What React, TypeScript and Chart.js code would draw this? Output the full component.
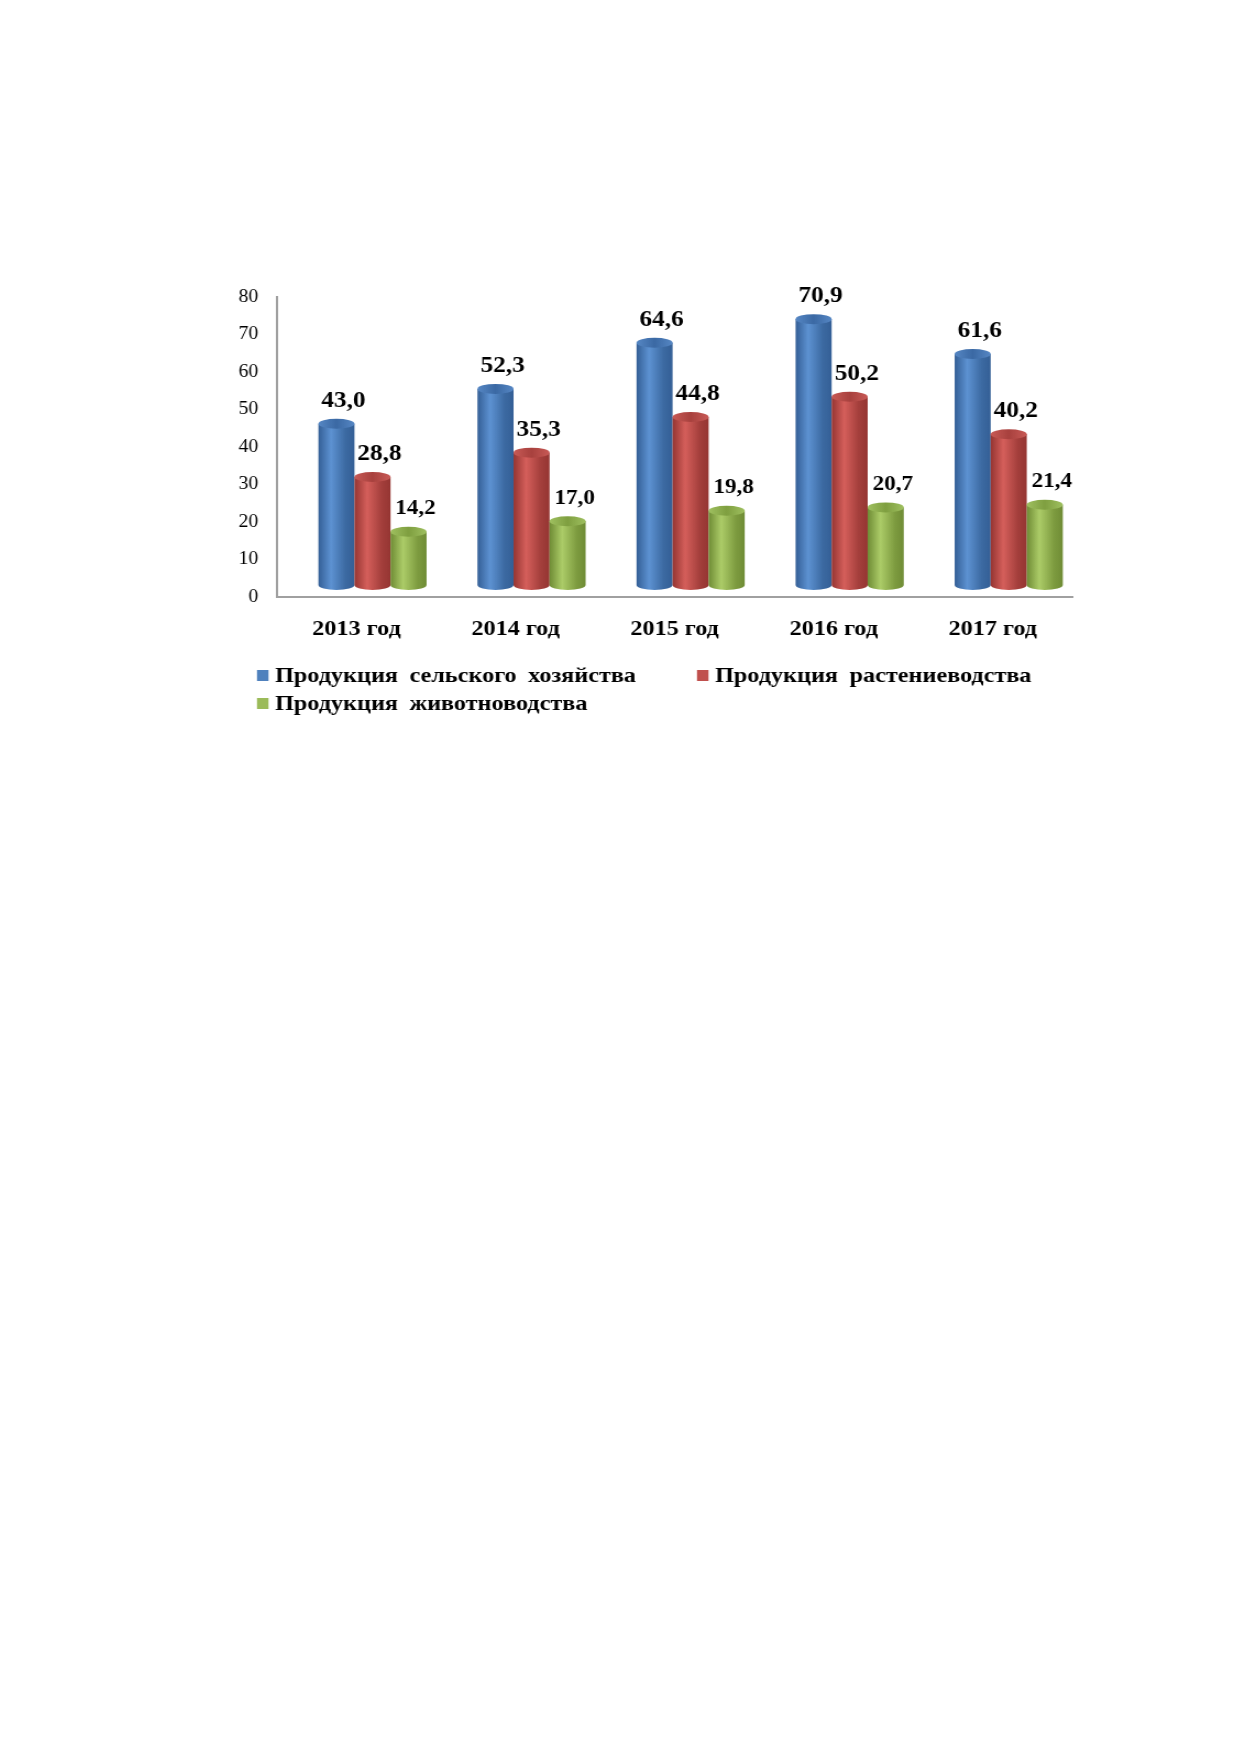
import { useEffect, useRef } from 'react';
import { Chart, registerables } from 'chart.js';

Chart.register(...registerables);

const years = ['2013 год', '2014 год', '2015 год', '2016 год', '2017 год'];
const seriesNames = [
  'Продукция сельского хозяйства',
  'Продукция растениеводства',
  'Продукция животноводства',
];
const agriculture = [43.0, 52.3, 64.6, 70.9, 61.6];
const cropProduction = [28.8, 35.3, 44.8, 50.2, 40.2];
const livestock = [14.2, 17.0, 19.8, 20.7, 21.4];
const yTicks = [0, 10, 20, 30, 40, 50, 60, 70, 80];

const FONT = '"Liberation Serif", "Times New Roman", serif';
const BASE_COLORS = ['#4F81BD', '#C0504D', '#9BBB59'];
const SHADES = [
  { dark: '#345f96', light: '#5d92d2', dark2: '#3c6aa2', cap: '#3b69a4', capLight: '#5687c4' },
  { dark: '#953532', light: '#d55f5b', dark2: '#a43f3c', cap: '#a8413e', capLight: '#c85a56' },
  { dark: '#6f8c35', light: '#accc68', dark2: '#7e9c40', cap: '#7f9f40', capLight: '#9fc060' },
];
// the original picture is stretched sideways
const STRETCH = 1.1;
// pseudo-3D depth shift of the cylinders
const DX = 14.5;
const DY = -12;

type Shade = (typeof SHADES)[number];

function drawCylinder(ctx: CanvasRenderingContext2D, cx: number, top: number, base: number, w: number, s: Shade) {
  const rx = w / 2;
  const ry = 5;
  const left = cx - rx;
  const body = ctx.createLinearGradient(left, 0, left + w, 0);
  body.addColorStop(0, s.dark);
  body.addColorStop(0.35, s.light);
  body.addColorStop(0.75, s.dark2);
  body.addColorStop(1, s.dark);
  ctx.beginPath();
  ctx.moveTo(left, top);
  ctx.lineTo(left, base);
  ctx.ellipse(cx, base, rx, ry, 0, Math.PI, 0, true);
  ctx.lineTo(left + w, top);
  ctx.closePath();
  ctx.fillStyle = body;
  ctx.fill();

  const cap = ctx.createLinearGradient(left, 0, left + w, 0);
  cap.addColorStop(0, s.capLight);
  cap.addColorStop(0.5, s.cap);
  cap.addColorStop(1, s.capLight);
  ctx.beginPath();
  ctx.ellipse(cx, top, rx, ry, 0, 0, Math.PI * 2);
  ctx.fillStyle = cap;
  ctx.fill();
}

const cylinderPlugin = {
  id: 'cylinders',
  beforeDatasetsDraw(chart: Chart) {
    const ctx = chart.ctx;
    ctx.save();
    chart.data.datasets.forEach((_ds, i) => {
      chart.getDatasetMeta(i).data.forEach((el: any) => {
        const { x, y, base, width } = el.getProps(['x', 'y', 'base', 'width'], true);
        drawCylinder(ctx, x + DX, y + DY, base + DY, width, SHADES[i]);
      });
    });
    ctx.restore();
    return false;
  },
  afterDraw(chart: Chart) {
    const ctx = chart.ctx;
    ctx.save();
    // value labels
    ctx.fillStyle = '#000';
    ctx.textAlign = 'center';
    ctx.textBaseline = 'middle';
    chart.data.datasets.forEach((ds, i) => {
      ctx.font = `bold ${i === 2 ? 21 : 23}px ${FONT}`;
      chart.getDatasetMeta(i).data.forEach((el: any, j: number) => {
        const { x, y } = el.getProps(['x', 'y'], true);
        const v = ds.data[j] as number;
        ctx.fillText(v.toFixed(1).replace('.', ','), x + DX + 6.4, y + DY - 23);
      });
    });

    // legend laid out as a grid (two columns)
    const { left, bottom } = chart.chartArea;
    const cols = [left - 18.2, left + 381.8];
    const rows = [bottom + 79, bottom + 107];
    ctx.textAlign = 'left';
    ctx.font = `bold 22px ${FONT}`;
    seriesNames.forEach((name, i) => {
      const bx = cols[i % 2];
      const by = rows[Math.floor(i / 2)];
      ctx.fillStyle = BASE_COLORS[i];
      ctx.fillRect(bx, by - 6, 10.5, 11);
      ctx.fillStyle = '#000';
      (ctx as any).wordSpacing = '5px';
      ctx.fillText(name, bx + 16.4, by);
      (ctx as any).wordSpacing = '0px';
    });
    ctx.restore();
  },
};

function CylinderChart() {
  const canvasRef = useRef<HTMLCanvasElement>(null);
  const chartRef = useRef<Chart | null>(null);

  useEffect(() => {
    if (!canvasRef.current) return;
    if (chartRef.current) chartRef.current.destroy();

    const values = [agriculture, cropProduction, livestock];

    chartRef.current = new Chart(canvasRef.current, {
      type: 'bar',
      data: {
        labels: years,
        datasets: values.map((data, i) => ({
          label: seriesNames[i],
          data,
          backgroundColor: BASE_COLORS[i],
          categoryPercentage: 0.68,
          barPercentage: 1,
        })),
      },
      plugins: [cylinderPlugin],
      options: {
        responsive: true,
        maintainAspectRatio: false,
        animation: false,
        layout: { padding: { top: 17, right: 25, left: 0, bottom: 87 } },
        plugins: {
          legend: { display: false },
          tooltip: { enabled: false },
        },
        scales: {
          x: {
            grid: { display: false, drawTicks: false },
            border: { display: true, color: '#a0a0a0', width: 2 },
            ticks: {
              color: '#000',
              padding: 19,
              font: { family: FONT, size: 22, weight: 'bold' },
            },
            afterFit: (scale: any) => {
              scale.height = 56;
            },
          },
          y: {
            min: 0,
            max: 80,
            grid: { display: false, drawTicks: true, tickLength: 17 },
            border: { display: true, color: '#a0a0a0', width: 2 },
            afterBuildTicks: (scale: any) => {
              scale.ticks = yTicks.map((value) => ({ value }));
            },
            ticks: {
              color: '#000',
              padding: 0,
              font: { family: FONT, size: 18 },
            },
            afterFit: (scale: any) => {
              scale.width = 70;
            },
          },
        },
      },
    });

    return () => {
      if (chartRef.current) {
        chartRef.current.destroy();
        chartRef.current = null;
      }
    };
  }, []);

  return (
    <div
      style={{
        position: 'absolute',
        left: 200,
        top: 280,
        width: 818,
        height: 460,
        transform: `scaleX(${STRETCH})`,
        transformOrigin: '0 0',
      }}
    >
      <canvas ref={canvasRef} />
    </div>
  );
}

export default function App() {
  return <CylinderChart />;
}
